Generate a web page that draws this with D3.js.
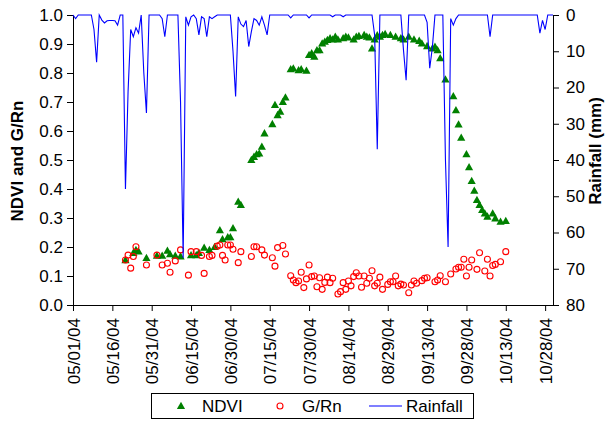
<!DOCTYPE html>
<html>
<head>
<meta charset="utf-8">
<script src="https://cdn.jsdelivr.net/npm/d3@7"></script>
<style>
  body { margin: 0; background: #fff; }
  svg { display: block; font-family: "Liberation Sans", Arial, sans-serif; }
</style>
</head>
<body>
<svg id="chart" width="606" height="421"></svg>
<script>
// NDVI observations (date, value)
const ndviDates = [
  "05/21/04","05/24/04","05/25/04","05/26/04","05/29/04","06/02/04","06/04/04","06/06/04","06/07/04","06/09/04",
  "06/11/04","06/15/04","06/17/04","06/18/04","06/20/04","06/22/04","06/24/04","06/26/04","06/27/04","06/29/04",
  "06/30/04","07/01/04","07/03/04","07/04/04","07/08/04","07/09/04","07/10/04","07/11/04","07/12/04","07/13/04",
  "07/16/04","07/17/04","07/18/04","07/19/04","07/20/04","07/21/04","07/23/04","07/24/04","07/26/04","07/27/04",
  "07/29/04","07/30/04","07/31/04","08/01/04","08/02/04","08/03/04","08/04/04","08/05/04","08/06/04","08/07/04",
  "08/08/04","08/09/04","08/10/04","08/12/04","08/13/04","08/14/04","08/16/04","08/17/04","08/18/04","08/20/04",
  "08/21/04","08/22/04","08/23/04","08/24/04","08/25/04","08/26/04","08/27/04","08/28/04","08/30/04","09/01/04",
  "09/03/04","09/04/04","09/06/04","09/08/04","09/10/04","09/11/04","09/13/04","09/15/04","09/16/04","09/17/04",
  "09/18/04","09/20/04","09/23/04","09/24/04","09/25/04","09/26/04","09/28/04","09/29/04","09/30/04","10/01/04",
  "10/02/04","10/03/04","10/04/04","10/05/04","10/06/04","10/08/04","10/09/04","10/11/04","10/13/04"
];
const ndviValues = [
  0.155,0.18,0.19,0.185,0.162,0.17,0.17,0.187,0.175,0.17,
  0.168,0.172,0.172,0.18,0.198,0.19,0.20,0.258,0.227,0.234,
  0.234,0.265,0.356,0.345,0.50,0.511,0.52,0.523,0.546,0.592,
  0.624,0.69,0.655,0.667,0.70,0.716,0.813,0.816,0.81,0.813,
  0.808,0.862,0.868,0.856,0.879,0.879,0.902,0.908,0.914,0.92,
  0.916,0.925,0.916,0.92,0.925,0.923,0.916,0.925,0.928,0.931,
  0.925,0.923,0.885,0.916,0.93,0.925,0.931,0.935,0.931,0.925,
  0.92,0.916,0.925,0.916,0.911,0.902,0.893,0.885,0.891,0.879,
  0.851,0.778,0.72,0.672,0.623,0.577,0.52,0.475,0.428,0.394,
  0.362,0.345,0.328,0.316,0.305,0.316,0.299,0.287,0.29
];

// G/Rn observations (date, value)
const grnDates = [
  "05/21/04","05/22/04","05/23/04","05/24/04","05/25/04","05/29/04","06/02/04","06/04/04","06/06/04","06/07/04",
  "06/09/04","06/11/04","06/14/04","06/15/04","06/17/04","06/19/04","06/20/04","06/22/04","06/23/04","06/25/04",
  "06/26/04","06/27/04","06/28/04","06/29/04","06/30/04","07/01/04","07/03/04","07/04/04","07/08/04","07/09/04",
  "07/10/04","07/12/04","07/13/04","07/16/04","07/17/04","07/18/04","07/20/04","07/21/04","07/23/04","07/24/04",
  "07/25/04","07/26/04","07/27/04","07/28/04","07/29/04","07/30/04","07/31/04","08/01/04","08/02/04","08/03/04",
  "08/04/04","08/05/04","08/06/04","08/07/04","08/08/04","08/10/04","08/11/04","08/12/04","08/13/04","08/14/04",
  "08/15/04","08/16/04","08/17/04","08/18/04","08/19/04","08/20/04","08/21/04","08/22/04","08/23/04","08/24/04",
  "08/25/04","08/26/04","08/27/04","08/29/04","08/30/04","08/31/04","09/01/04","09/02/04","09/03/04","09/04/04",
  "09/06/04","09/07/04","09/08/04","09/09/04","09/11/04","09/12/04","09/13/04","09/16/04","09/17/04","09/18/04",
  "09/20/04","09/22/04","09/24/04","09/25/04","09/26/04","09/27/04","09/28/04","09/29/04","09/30/04","10/02/04",
  "10/03/04","10/05/04","10/06/04","10/07/04","10/08/04","10/09/04","10/11/04","10/13/04"
];
const grnValues = [
  0.155,0.172,0.127,0.167,0.201,0.138,0.172,0.138,0.144,0.113,
  0.152,0.19,0.103,0.184,0.184,0.171,0.109,0.167,0.171,0.203,
  0.207,0.171,0.155,0.207,0.207,0.192,0.146,0.184,0.167,0.201,
  0.201,0.19,0.172,0.163,0.134,0.198,0.205,0.176,0.101,0.086,
  0.077,0.083,0.113,0.06,0.09,0.138,0.098,0.10,0.063,0.094,
  0.054,0.078,0.096,0.077,0.092,0.038,0.046,0.077,0.054,0.083,
  0.066,0.098,0.111,0.10,0.061,0.10,0.075,0.092,0.118,0.066,
  0.075,0.096,0.054,0.071,0.08,0.08,0.10,0.066,0.072,0.069,
  0.042,0.069,0.083,0.075,0.084,0.092,0.094,0.08,0.086,0.101,
  0.08,0.107,0.124,0.13,0.13,0.158,0.10,0.13,0.155,0.123,
  0.18,0.117,0.158,0.10,0.136,0.14,0.149,0.184
];

// Daily rainfall (mm), one value per day starting on rainStart
const rainStart = "05/01/04";
const rainMay = [0,1,0,0,0,0,0,0,4,13, 0,1.4,2.2,1.6,1.5,1.5,1.6,2.8,0,0, 48,21,4,6,3.5,5,0,16,27,0, 0];
const rainJun = [0,0,0,1,6,0,0,0,0,0, 24,67,0.5,2.8,0.5,0,1,5.5,0.5,1, 6,0.5,1,0.5,0,0,0,0,0,0];
const rainJul = [10,22.5,0.5,2.5,3.2,1.5,8.7,4.6,1,1.5, 2.8,0.5,2.8,5.5,0,0,0,0,0,0, 0,0,0.8,0,0,0,0,0,0,0.8, 0];
const rainAug = [0,0,0,0,0,0,0,0.5,0,0, 0,0.5,0,0,0,0,0,0,0,0, 0,0,0,5.5,37,0,0,0,0,0, 0];
const rainSep = [0,0,0,9.7,18,0,0,0,0,0, 0,0,2,14.7,9,0,0,0,0,40, 64,1,2.8,1,0,0,0,0,0,0];
const rainOct = [0,0,0,0,0,0,6,0,0,0, 0,0,0,0,0,0,0,0,0,0, 0,0,0,0,0,5,1.5,4,0,0, 0];

// Axis ticks and extents
const dateDomain = ["05/01/04", "10/31/04"];
const dateTicks = ["05/01/04","05/16/04","05/31/04","06/15/04","06/30/04","07/15/04","07/30/04",
                   "08/14/04","08/29/04","09/13/04","09/28/04","10/13/04","10/28/04"];
const leftTicks = [0,0.1,0.2,0.3,0.4,0.5,0.6,0.7,0.8,0.9,1.0];
const rightTicks = [0,10,20,30,40,50,60,70,80];

const parse = d3.timeParse("%m/%d/%y");
const fmt = d3.timeFormat("%m/%d/%y");

const plot = { left: 73, right: 553, top: 15, bottom: 305 };

const svg = d3.select("#chart");

const x = d3.scaleTime().domain(dateDomain.map(parse)).range([plot.left, plot.right]);
const y = d3.scaleLinear().domain([0, 1]).range([plot.bottom, plot.top]);
const yRain = d3.scaleLinear().domain([0, 80]).range([plot.top, plot.bottom]);

const ndvi = ndviDates.map((d, i) => ({ date: parse(d), value: ndviValues[i] }));
const grn = grnDates.map((d, i) => ({ date: parse(d), value: grnValues[i] }));
const rainAll = [].concat(rainMay, rainJun, rainJul, rainAug, rainSep, rainOct);
const start = parse(rainStart);
const rain = rainAll.map((v, i) => ({ date: d3.timeDay.offset(start, i), value: v }));

const tickFont = "17px";

// Left axis
const gLeft = svg.append("g")
  .attr("transform", `translate(${plot.left},0)`)
  .call(d3.axisLeft(y).tickValues(leftTicks).tickFormat(d3.format(".1f"))
        .tickSize(6).tickSizeOuter(0).tickPadding(4));

// Right axis (rainfall, reversed)
const gRight = svg.append("g")
  .attr("transform", `translate(${plot.right},0)`)
  .call(d3.axisRight(yRain).tickValues(rightTicks).tickFormat(d3.format("d"))
        .tickSize(6).tickSizeOuter(0).tickPadding(7));

// Bottom date axis
const gBottom = svg.append("g")
  .attr("transform", `translate(0,${plot.bottom})`)
  .call(d3.axisBottom(x).tickValues(dateTicks.map(parse)).tickFormat(fmt)
        .tickSize(6).tickSizeOuter(0));
gBottom.selectAll("text")
  .attr("transform", "rotate(-90)")
  .attr("text-anchor", "end")
  .attr("x", -13)
  .attr("y", 0)
  .attr("dy", "0.36em");

[gLeft, gRight, gBottom].forEach(g => {
  g.selectAll("text").attr("font-size", tickFont).attr("fill", "#000")
    .attr("font-family", "'Liberation Sans', Arial, sans-serif");
  g.selectAll("line").attr("stroke", "#000");
  g.select(".domain").attr("stroke", "#000");
});

// Axis titles
svg.append("text")
  .attr("transform", `translate(23,161) rotate(-90)`)
  .attr("text-anchor", "middle")
  .attr("font-size", "17px").attr("font-weight", "bold").attr("fill", "#000")
  .text("NDVI and G/Rn");

svg.append("text")
  .attr("transform", `translate(601,151) rotate(-90)`)
  .attr("text-anchor", "middle")
  .attr("font-size", "17px").attr("font-weight", "bold").attr("fill", "#000")
  .text("Rainfall (mm)");

// Marker shapes
const triPath = "M0,-4.2L4.1,3.1L-4.1,3.1Z";

// NDVI triangles
svg.append("g").selectAll("path")
  .data(ndvi).join("path")
  .attr("d", triPath)
  .attr("transform", d => `translate(${x(d.date)},${y(d.value)})`)
  .attr("fill", "#008000");

// G/Rn open circles
svg.append("g").selectAll("circle")
  .data(grn).join("circle")
  .attr("cx", d => x(d.date))
  .attr("cy", d => y(d.value))
  .attr("r", 3)
  .attr("fill", "none")
  .attr("stroke", "#ff0000")
  .attr("stroke-width", 1.1);

// Rainfall line on the reversed secondary axis
svg.append("path")
  .datum(rain)
  .attr("d", d3.line().x(d => x(d.date)).y(d => yRain(d.value)))
  .attr("fill", "none")
  .attr("stroke", "#0000ff")
  .attr("stroke-width", 1.1);

// Legend
const legend = svg.append("g").attr("font-size", "17px").attr("fill", "#000");
legend.append("rect")
  .attr("x", 151.5).attr("y", 393.5).attr("width", 322).attr("height", 25)
  .attr("fill", "#fff").attr("stroke", "#000").attr("stroke-width", 1);
legend.append("path").attr("d", triPath)
  .attr("transform", "translate(181,406)").attr("fill", "#008000");
legend.append("text").attr("x", 202).attr("y", 412).text("NDVI");
legend.append("circle").attr("cx", 280).attr("cy", 406).attr("r", 3)
  .attr("fill", "none").attr("stroke", "#ff0000").attr("stroke-width", 1.1);
legend.append("text").attr("x", 302).attr("y", 412).text("G/Rn");
legend.append("line").attr("x1", 369).attr("x2", 402).attr("y1", 406).attr("y2", 406)
  .attr("stroke", "#0000ff").attr("stroke-width", 1.1);
legend.append("text").attr("x", 406).attr("y", 412).text("Rainfall");
</script>
</body>
</html>
